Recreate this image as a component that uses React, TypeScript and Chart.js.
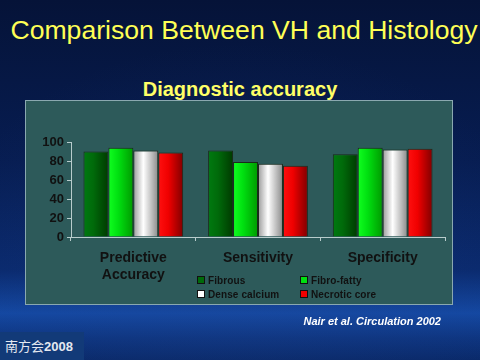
import React, { useEffect, useRef } from "react";
import { Chart, registerables } from "chart.js";

Chart.register(...registerables);

const categories: string[][] = [["Predictive", "Accuracy"], ["Sensitivity"], ["Specificity"]];
const seriesNames = ["Fibrous", "Fibro-fatty", "Dense calcium", "Necrotic core"];
const fibrous = [90, 91, 87];
const fibroFatty = [94, 79, 94];
const denseCalcium = [91, 77, 92];
const necroticCore = [89, 75, 93];
const yTicks = [0, 20, 40, 60, 80, 100];

// gradient stops per series: left, mid, right
const seriesColors = [
  ["#007a10", "#006a0a", "#003a00"],
  ["#10ff20", "#00e010", "#009a00"],
  ["#9a9a9a", "#ffffff", "#8a8a8a"],
  ["#ff1010", "#f00000", "#800000"],
];
const legendSwatch = ["#006a0a", "#00e010", "#ffffff", "#f00000"];

const FONT = "'Liberation Sans', Arial, sans-serif";

export default function App() {
  const ref = useRef<HTMLCanvasElement | null>(null);

  useEffect(() => {
    if (!ref.current) return;
    const values = [fibrous, fibroFatty, denseCalcium, necroticCore];
    const grad = (dsIndex: number) => (c: any) => {
      const chart = c.chart;
      const x = chart.scales?.x;
      const stops = seriesColors[dsIndex];
      if (!x || !chart.chartArea || c.dataIndex === undefined) return stops[1];
      const center = x.getPixelForValue(c.dataIndex);
      const catW = x.width / categories.length;
      const groupW = catW * 0.8;
      const barW = groupW / values.length;
      const left = center - groupW / 2 + dsIndex * barW;
      const g = chart.ctx.createLinearGradient(left, 0, left + barW, 0);
      g.addColorStop(0, stops[0]);
      g.addColorStop(0.4, stops[1]);
      g.addColorStop(1, stops[2]);
      return g;
    };
    const chart = new Chart(ref.current, {
      type: "bar",
      data: {
        labels: categories as any,
        datasets: values.map((v, i) => ({
          label: seriesNames[i],
          data: v,
          backgroundColor: grad(i),
          borderColor: "#1a2a1a",
          borderWidth: 1,
          barPercentage: 1,
          categoryPercentage: 0.8,
        })),
      },
      options: {
        animation: false,
        responsive: false,
        maintainAspectRatio: false,
        layout: { padding: { top: 41, right: 7, left: 0, bottom: 0 } },
        plugins: { legend: { display: false }, tooltip: { enabled: false } },
        scales: {
          x: {
            grid: {
              display: true,
              offset: true,
              drawOnChartArea: false,
              drawTicks: true,
              tickLength: 4,
              color: "#b8cccc",
            },
            border: { display: true, color: "#b8cccc", width: 1 },
            ticks: {
              color: "#111111",
              font: { family: FONT, size: 14, weight: "bold", lineHeight: 1.2 },
              padding: 9,
              maxRotation: 0,
            },
            afterFit: (s: any) => {
              s.height = 67;
            },
          },
          y: {
            min: 0,
            max: 100,
            afterBuildTicks: (s: any) => {
              s.ticks = yTicks.map((v) => ({ value: v }));
            },
            grid: {
              display: true,
              drawOnChartArea: false,
              drawTicks: true,
              tickLength: 4,
              color: "#b8cccc",
            },
            border: { display: true, color: "#b8cccc", width: 1 },
            ticks: {
              color: "#111111",
              font: { family: FONT, size: 13, weight: "bold" },
              padding: 3,
            },
            afterFit: (s: any) => {
              s.width = 45;
            },
          },
        },
      },
    });
    return () => chart.destroy();
  }, []);

  return (
    <div
      style={{
        position: "fixed",
        left: 0,
        top: 0,
        width: 480,
        height: 360,
        overflow: "hidden",
        fontFamily: FONT,
        background:
          "linear-gradient(180deg, #051338 0%, #071d52 45%, #0a2a6e 75%, #1448a2 87%, #0e3580 94%, #0a2a6a 100%)",
      }}
    >
      <div
        style={{
          position: "absolute",
          left: -60,
          top: 40,
          width: 600,
          height: 420,
          borderRadius: "50%",
          background: "radial-gradient(ellipse at center, rgba(40,70,140,0.18) 0%, rgba(20,40,100,0.0) 70%)",
        }}
      />
      <div
        style={{
          position: "absolute",
          left: 0,
          width: 480,
          top: 13,
          textAlign: "center",
          color: "#ffff55",
          fontSize: 26.6,
          lineHeight: "34px",
          whiteSpace: "nowrap",
          paddingLeft: 4,
        }}
      >
        Comparison Between VH and Histology
      </div>
      <div
        style={{
          position: "absolute",
          left: 0,
          width: 480,
          top: 77,
          textAlign: "center",
          color: "#ffff66",
          fontSize: 20,
          fontWeight: "bold",
          lineHeight: "24px",
        }}
      >
        Diagnostic accuracy
      </div>
      <div
        style={{
          position: "absolute",
          left: 25,
          top: 100,
          width: 426,
          height: 203,
          background: "#2d5a5a",
          border: "1px solid #8aa8b0",
        }}
      >
        <canvas ref={ref} width={426} height={203} style={{ display: "block" }} />
        <div
          style={{
            position: "absolute",
            left: 171,
            top: 173,
            display: "grid",
            gridTemplateColumns: "103px 140px",
            rowGap: 2,
          }}
        >
          {seriesNames.map((n, i) => (
            <div key={n} style={{ display: "flex", alignItems: "center", height: 12 }}>
              <span
                style={{
                  display: "inline-block",
                  width: 6,
                  height: 6,
                  background: legendSwatch[i],
                  border: "1px solid #111",
                  marginRight: 3,
                }}
              />
              <span
                style={{
                  fontSize: 10,
                  fontWeight: "bold",
                  color: "#111",
                  letterSpacing: 0.1,
                  whiteSpace: "nowrap",
                }}
              >
                {n}
              </span>
            </div>
          ))}
        </div>
      </div>
      <div
        style={{
          position: "absolute",
          right: 39,
          top: 315,
          color: "#ffffff",
          fontSize: 11,
          fontWeight: "bold",
          fontStyle: "italic",
        }}
      >
        Nair et al. Circulation 2002
      </div>
      <div
        style={{
          position: "absolute",
          left: 0,
          top: 332,
          width: 84,
          height: 28,
          background: "#123a78",
          color: "#e4e8f0",
          fontSize: 13,
          lineHeight: "28px",
          paddingLeft: 5,
          boxSizing: "border-box",
          whiteSpace: "nowrap",
        }}
      >
        <span style={{ fontFamily: "'Noto Sans CJK SC', sans-serif" }}>南方会</span>
        <span style={{ fontWeight: "bold" }}>2008</span>
      </div>
    </div>
  );
}
